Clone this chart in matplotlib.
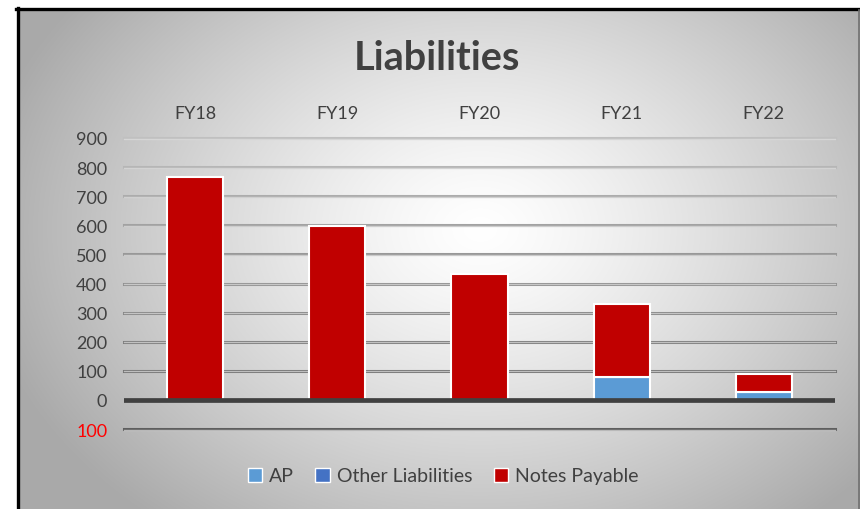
import numpy as np
import matplotlib
matplotlib.use("Agg")
import matplotlib.pyplot as plt
from matplotlib.lines import Line2D
from matplotlib.patches import Patch

# ---- data ----
categories = ["FY18", "FY19", "FY20", "FY21", "FY22"]
ap = [0, 0, 0, 80, 27]
other_liabilities = [0, 0, 0, 0, 0]
notes_payable = [765, 598, 434, 249, 61]
y_ticks = [-100, 0, 100, 200, 300, 400, 500, 600, 700, 800, 900]

plt.rcParams['font.family'] = ['Lato', 'DejaVu Sans']

W, H = 860, 510
fig = plt.figure(figsize=(W / 100, H / 100), dpi=100)
fig.patch.set_facecolor('white')

# background panel with radial gradient
x0, y0 = 19, 11
bg = fig.add_axes([x0 / W, 0, 1 - x0 / W, 1 - y0 / H], zorder=0)
bw, bh = W - x0, H - y0
xx, yy = np.meshgrid(np.arange(bw) + x0, np.arange(bh) + y0)
cx, cy = 480, 230
d = np.sqrt(((xx - cx) / 1.0) ** 2 + ((yy - cy) / 0.75) ** 2)
v = 255 - 80 * np.clip(d / 480, 0, 1.3) ** 1.3
v = np.clip(v, 170, 255) / 255.0
img = np.dstack([v, v, v])
bg.imshow(img, aspect='auto', extent=[0, 1, 0, 1], interpolation='bilinear')
bg.set_axis_off()

# frame lines (black top/left, gray right)
fig.add_artist(Line2D([17.5 / W, 17.5 / W], [0, 1 - 9 / H], color='black', lw=2.4, transform=fig.transFigure))
fig.add_artist(Line2D([16 / W, 1], [1 - 9.5 / H, 1 - 9.5 / H], color='black', lw=2.4, transform=fig.transFigure))
fig.add_artist(Line2D([859 / W, 859 / W], [0, 1 - 11 / H], color='#707070', lw=1.2, transform=fig.transFigure))

# main axes
ymin, ymax = -105, 905
px_per_unit = 29.17 / 100
top_px = 139 - 5 * px_per_unit
bot_px = 430 + 5 * px_per_unit
ax = fig.add_axes([124 / W, (H - bot_px) / H, (835 - 124) / W, (bot_px - top_px) / H], zorder=2)
ax.patch.set_alpha(0)
ax.set_xlim(-0.5, len(categories) - 0.5)
ax.set_ylim(ymin, ymax)

# gridlines
for t in y_ticks:
    if t == 0:
        continue
    if t < 0:
        col = '#5e5e5e'
    else:
        f = (t - 100) / 800.0
        g = int(112 + f * 80)
        col = '#%02x%02x%02x' % (g, g, g)
    ax.axhline(t, color=col, lw=2.2, zorder=1, clip_on=False)
    ax.axhline(t - 2.2, color='#e0e0e0', lw=1.0, alpha=0.7, zorder=1, clip_on=False)

x = np.arange(len(categories))
bw_ = 0.395
b1 = np.array(ap, dtype=float)
b2 = b1 + np.array(other_liabilities, dtype=float)
ax.bar(x, ap, bw_, color='#5B9BD5', edgecolor='white', lw=1.5, zorder=3, label='AP')
ax.bar(x, other_liabilities, bw_, bottom=b1, color='#4472C4', edgecolor='white', lw=1.5, zorder=3,
       label='Other Liabilities')
ax.bar(x, notes_payable, bw_, bottom=b2, color='#C00000', edgecolor='white', lw=1.5, zorder=3,
       label='Notes Payable')

ax.axhline(0, color='#404040', lw=3.4, zorder=4)

for s in ax.spines.values():
    s.set_visible(False)

ax.xaxis.tick_top()
ax.set_xticks(x, categories)
ax.tick_params(axis='x', length=0, pad=11, labelsize=13, labelcolor='#404040')
ax.set_yticks(y_ticks, [str(abs(t)) for t in y_ticks])
ax.tick_params(axis='y', length=0, pad=12, labelsize=13, labelcolor='#404040')
for lab, t in zip(ax.get_yticklabels(), y_ticks):
    if t < 0:
        lab.set_color('#FF0000')

fig.text(437 / W, 1 - 58 / H, 'Liabilities', ha='center', va='center', fontsize=28.5,
         fontweight='bold', color='#404040')

handles = [Patch(facecolor='#5B9BD5', edgecolor='white', label='AP'),
           Patch(facecolor='#4472C4', edgecolor='white', label='Other Liabilities'),
           Patch(facecolor='#C00000', edgecolor='white', label='Notes Payable')]
leg = fig.legend(handles=handles, loc='center', bbox_to_anchor=(443 / W, 1 - 477 / H), ncol=3,
                 frameon=False, fontsize=14, handlelength=0.75, handleheight=0.75,
                 handletextpad=0.35, columnspacing=1.1)
for t in leg.get_texts():
    t.set_color('#404040')

fig.savefig('out.png', dpi=100)
